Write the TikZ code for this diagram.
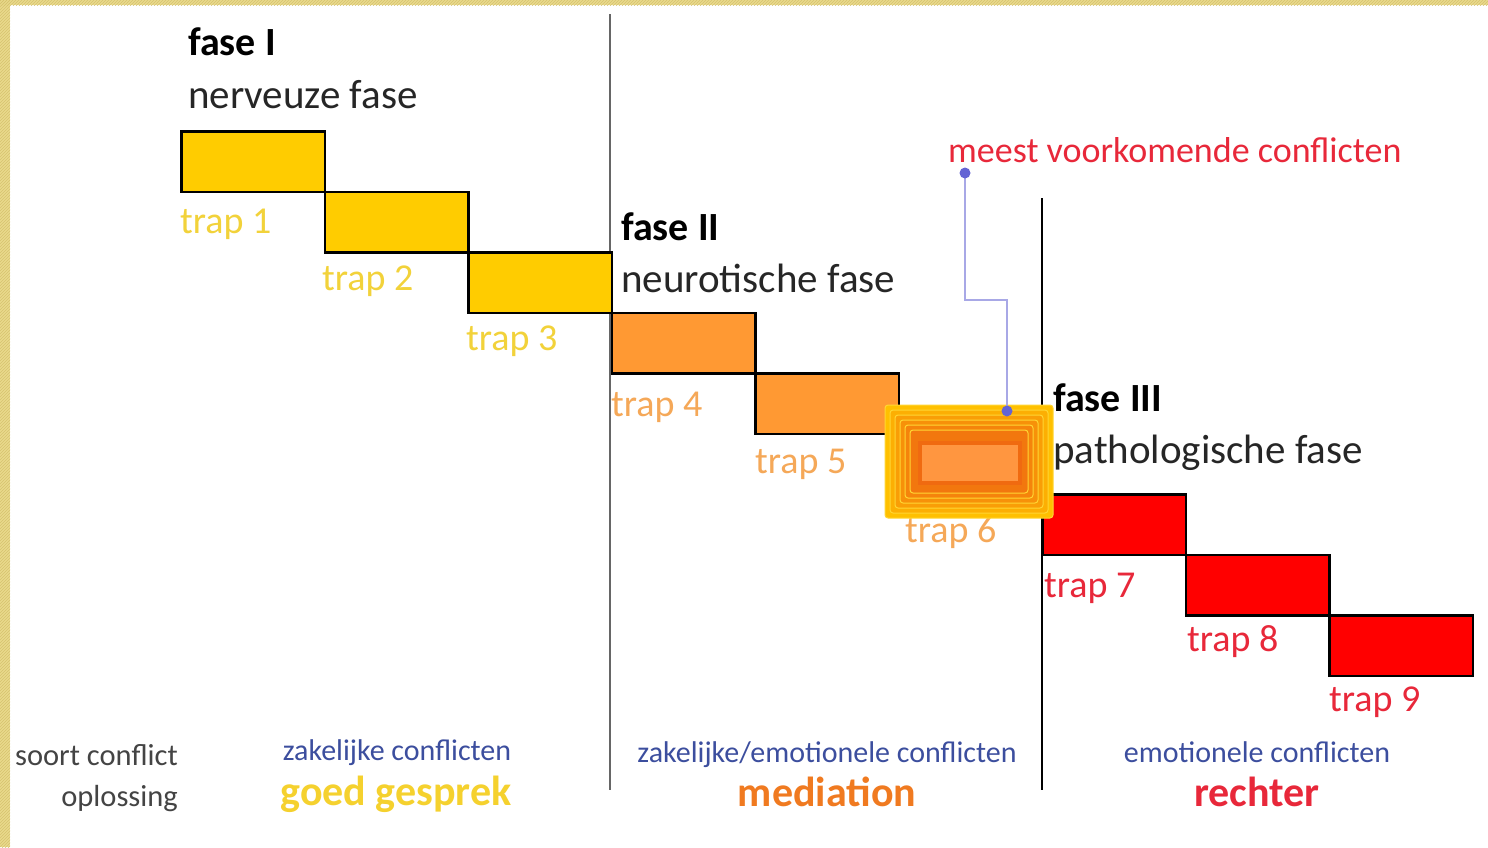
\documentclass[tikz,border=0pt]{standalone}
\usepackage{fontspec}
\setmainfont{Carlito}
\usetikzlibrary{patterns}
\definecolor{frameY}{HTML}{E9D98C}
\definecolor{frameL}{HTML}{D6C36E}
\definecolor{yel}{HTML}{FFCC00}
\definecolor{ora}{HTML}{FF9933}
\definecolor{rd}{HTML}{FF0000}
\definecolor{yelT}{HTML}{F2D23A}
\definecolor{oraT}{HTML}{F5A858}
\definecolor{rdT}{HTML}{E8283A}
\definecolor{blueT}{HTML}{3C4E9E}
\definecolor{greyT}{HTML}{444444}
\definecolor{medT}{HTML}{F07A20}
\definecolor{callL}{HTML}{A8A8E6}
\definecolor{callD}{HTML}{6464D4}
\definecolor{glowO}{HTML}{FFC000}
\definecolor{glowI}{HTML}{F06A10}
\definecolor{glowF}{HTML}{FF9640}
\tikzset{
  stepbox/.style={draw=black, line width=2.8pt, minimum width=143.5pt, minimum height=60.5pt, inner sep=0pt, anchor=north west},
  traplbl/.style={anchor=base west, inner sep=0pt, font=\fontsize{38}{44}\selectfont},
  fasehead/.style={anchor=base west, inner sep=0pt, font=\fontsize{40}{46}\selectfont\bfseries},
  fasesub/.style={anchor=base west, inner sep=0pt, font=\fontsize{41}{47}\selectfont, text=black!85},
  bottxt/.style={anchor=base, inner sep=0pt, font=\fontsize{30}{36}\selectfont, text=blueT},
  botbold/.style={anchor=base, inner sep=0pt, font=\fontsize{42}{48}\selectfont\bfseries},
}
\begin{document}
\begin{tikzpicture}[x=1pt,y=-1pt]
\useasboundingbox (0,0) rectangle (1488,847);
\fill[white] (0,0) rectangle (1488,847);
% frame
\fill[frameY] (0,0) rectangle (10,847);
\fill[frameY] (0,0) rectangle (1488,5);
\fill[pattern=north east lines, pattern color=frameL] (0,0) rectangle (10,847);
\fill[pattern=north east lines, pattern color=frameL] (0,0) rectangle (1488,5);

% phase separators
\coordinate (s1top) at (610,14);
\coordinate (s1bot) at (610,790);
\coordinate (s2top) at (1042,198);
\coordinate (s2bot) at (1042,790);
\draw[line width=2.6pt, black!60] (s1top) -- (s1bot);
\draw[line width=2.2pt, black] (s2top) -- (s2bot);

% steps
\node[stepbox, fill=yel] (t1) at (180,130) {};
\node[stepbox, fill=yel] (t2) at (323.5,190.5) {};
\node[stepbox, fill=yel] (t3) at (467,251) {};
\node[stepbox, fill=ora] (t4) at (610.5,311.5) {};
\node[stepbox, fill=ora] (t5) at (754,372) {};
\node[stepbox, fill=ora] (t6) at (897.5,432.5) {};
\node[stepbox, fill=rd] (t7) at (1041,493) {};
\node[stepbox, fill=rd] (t8) at (1184.5,553.5) {};
\node[stepbox, fill=rd] (t9) at (1328,614) {};

% trap labels
\node[traplbl, text=yelT] (l1) at (180,233) {trap 1};
\node[traplbl, text=yelT] (l2) at (322,290) {trap 2};
\node[traplbl, text=yelT] (l3) at (466,350) {trap 3};
\node[traplbl, text=oraT] (l4) at (611,416) {trap 4};
\node[traplbl, text=oraT] (l5) at (755,473) {trap 5};
\node[traplbl, text=oraT] (l6) at (905,542) {trap 6};
\node[traplbl, text=rdT] (l7) at (1044,597) {trap 7};
\node[traplbl, text=rdT] (l8) at (1187,651) {trap 8};
\node[traplbl, text=rdT] (l9) at (1329,711) {trap 9};

% glow on trap 6
\foreach \i/\c in {0/0,1/20,2/40,3/55,4/70,5/85}{
  \pgfmathsetmacro{\ins}{5*\i}
  \fill[glowI!\c!glowO, draw=yel!80!white, line width=1pt, rounded corners=3pt]
    (885+\ins,405+\ins) rectangle (1053-\ins,518-\ins);
}
\node[draw=glowI, line width=4pt, fill=glowF, inner sep=0pt, minimum width=100pt, minimum height=40pt, anchor=north west] (t6core) at (918,441) {};

% phase headings
\node[fasehead] (f1) at (188,55) {fase I};
\node[fasesub] (f1s) at (188,108) {nerveuze fase};
\node[fasehead] (f2) at (621,240) {fase II};
\node[fasesub] (f2s) at (621,292) {neurotische fase};
\node[fasehead] (f3) at (1053,411) {fase III};
\node[fasesub] (f3s) at (1053,463) {pathologische fase};

% callout
\node[anchor=base west, inner sep=0pt, font=\fontsize{36}{42}\selectfont, text=rdT] (meest) at (948,162) {meest voorkomende conflicten};
\coordinate (cA) at (965,173);
\coordinate (cB) at (1007,411);
\draw[callL, line width=2.6pt] (cA) -- (965,300) -- (1007,300) -- (cB);
\fill[callD] (cA) circle (5.5pt);
\fill[callD] (cB) circle (5.5pt);

% bottom texts
\node[anchor=base east, inner sep=0pt, font=\fontsize{30.5}{36}\selectfont, text=greyT] (sc) at (178,765) {soort conflict};
\node[anchor=base east, inner sep=0pt, font=\fontsize{30.5}{36}\selectfont, text=greyT] (op) at (178,806) {oplossing};
\node[bottxt] (b1) at (397,760) {zakelijke conflicten};
\node[botbold, text=yelT!80!yel] (o1) at (396,805) {goed gesprek};
\node[bottxt] (b2) at (827,762) {zakelijke/emotionele conflicten};
\node[botbold, text=medT] (o2) at (827,806) {mediation};
\node[bottxt] (b3) at (1257,762) {emotionele conflicten};
\node[botbold, text=rdT] (o3) at (1257,806) {rechter};
\end{tikzpicture}
\end{document}
